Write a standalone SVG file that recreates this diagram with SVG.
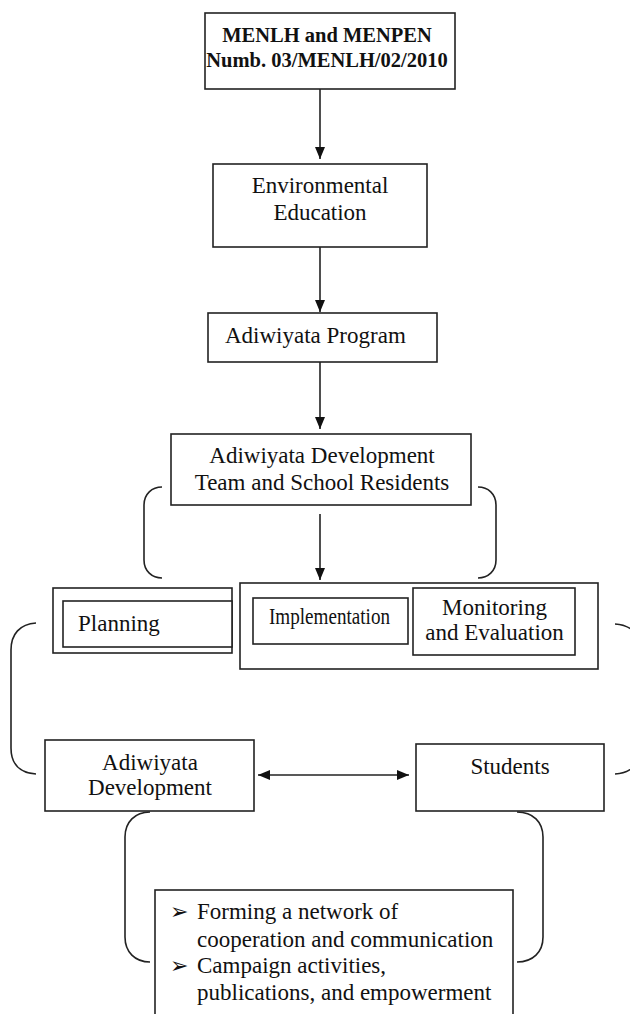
<svg xmlns="http://www.w3.org/2000/svg" width="630" height="1014" viewBox="0 0 630 1014">
<style>
.box{fill:#fff;stroke:#222;stroke-width:1.6}
.ln{fill:none;stroke:#222;stroke-width:1.6}
.t{font-family:"Liberation Serif","Times New Roman",serif;font-size:23px;fill:#111}
.b{font-weight:bold;font-size:20.5px}
.bul{font-family:"DejaVu Sans",sans-serif;font-size:22px;fill:#111}
</style>
<defs>
<marker id="ah" viewBox="0 0 12 10" refX="12" refY="5" markerWidth="12" markerHeight="10" markerUnits="userSpaceOnUse" orient="auto-start-reverse">
<path d="M0,0 L12,5 L0,10 Z" fill="#111"/>
</marker>
</defs>
<rect width="630" height="1014" fill="#fff"/>
<g id="connectors">
<line class="ln" x1="320" y1="89" x2="320" y2="159" marker-end="url(#ah)"/>
<line class="ln" x1="320" y1="247" x2="320" y2="312" marker-end="url(#ah)"/>
<line class="ln" x1="320" y1="362" x2="320" y2="429" marker-end="url(#ah)"/>
<line class="ln" x1="320" y1="514" x2="320" y2="580" marker-end="url(#ah)"/>
<line class="ln" x1="258" y1="775" x2="409" y2="775" marker-start="url(#ah)" marker-end="url(#ah)"/>
<path class="ln" d="M162,487 C152,487 144,494 144,505 L144,560 C144,571 152,578 162,578"/>
<path class="ln" d="M478,487 C488,487 496,494 496,505 L496,560 C496,571 488,578 478,578"/>
<path class="ln" d="M36,623 C20,624 11,634 11,650 L11,748 C11,764 20,773 36,774"/>
<path class="ln" d="M615,624 C631,625 640,634 640,650 L640,748 C640,764 631,773 615,774"/>
<path class="ln" d="M150,812 C135,812 125,822 125,837 L125,937 C125,952 135,962 150,962"/>
<path class="ln" d="M517,812 C533,812 543,822 543,837 L543,937 C543,952 533,962 517,962"/>
</g>
<g id="n-top">
<rect class="box" x="205" y="13" width="250" height="76"/>
<text class="t b" x="327" y="42" text-anchor="middle">MENLH and MENPEN</text>
<text class="t b" x="327" y="67" text-anchor="middle">Numb. 03/MENLH/02/2010</text>
</g>
<g id="n-env">
<rect class="box" x="213" y="164" width="214" height="83"/>
<text class="t" x="320" y="193" text-anchor="middle">Environmental</text>
<text class="t" x="320" y="220" text-anchor="middle">Education</text>
</g>
<g id="n-program">
<rect class="box" x="208" y="313" width="229" height="49"/>
<text class="t" x="225" y="343">Adiwiyata Program</text>
</g>
<g id="n-team">
<rect class="box" x="171" y="434" width="300" height="71"/>
<text class="t" x="322" y="463" text-anchor="middle">Adiwiyata Development</text>
<text class="t" x="322" y="490" text-anchor="middle">Team and School Residents</text>
</g>
<g id="n-planning">
<rect class="box" x="53" y="588" width="179" height="65"/>
<rect class="box" x="63" y="601" width="169" height="46"/>
<text class="t" x="78" y="631">Planning</text>
</g>
<g id="n-impl">
<rect class="box" x="240" y="583" width="358" height="86"/>
<rect class="box" x="253" y="598" width="155" height="46"/>
<text class="t" x="269" y="624" font-size="22" textLength="121" lengthAdjust="spacingAndGlyphs">Implementation</text>
</g>
<g id="n-monitor">
<rect class="box" x="413" y="588" width="162" height="67"/>
<text class="t" x="494.5" y="615" font-size="21" text-anchor="middle">Monitoring</text>
<text class="t" x="494.5" y="640" font-size="21" text-anchor="middle">and Evaluation</text>
</g>
<g id="n-adidev">
<rect class="box" x="45" y="740" width="209" height="71"/>
<text class="t" x="150" y="770" text-anchor="middle">Adiwiyata</text>
<text class="t" x="150" y="795" text-anchor="middle">Development</text>
</g>
<g id="n-students">
<rect class="box" x="416" y="744" width="188" height="67"/>
<text class="t" x="510" y="774" text-anchor="middle">Students</text>
</g>
<g id="n-activities">
<rect class="box" x="155" y="890" width="358" height="130"/>
<text class="bul" x="170" y="919">➢</text>
<text class="t" x="197" y="919" font-size="22.5">Forming a network of</text>
<text class="t" x="197" y="947" font-size="22.5">cooperation and communication</text>
<text class="bul" x="170" y="973">➢</text>
<text class="t" x="197" y="973" font-size="22.5">Campaign activities,</text>
<text class="t" x="197" y="1000" font-size="22.5">publications, and empowerment</text>
</g>
</svg>
